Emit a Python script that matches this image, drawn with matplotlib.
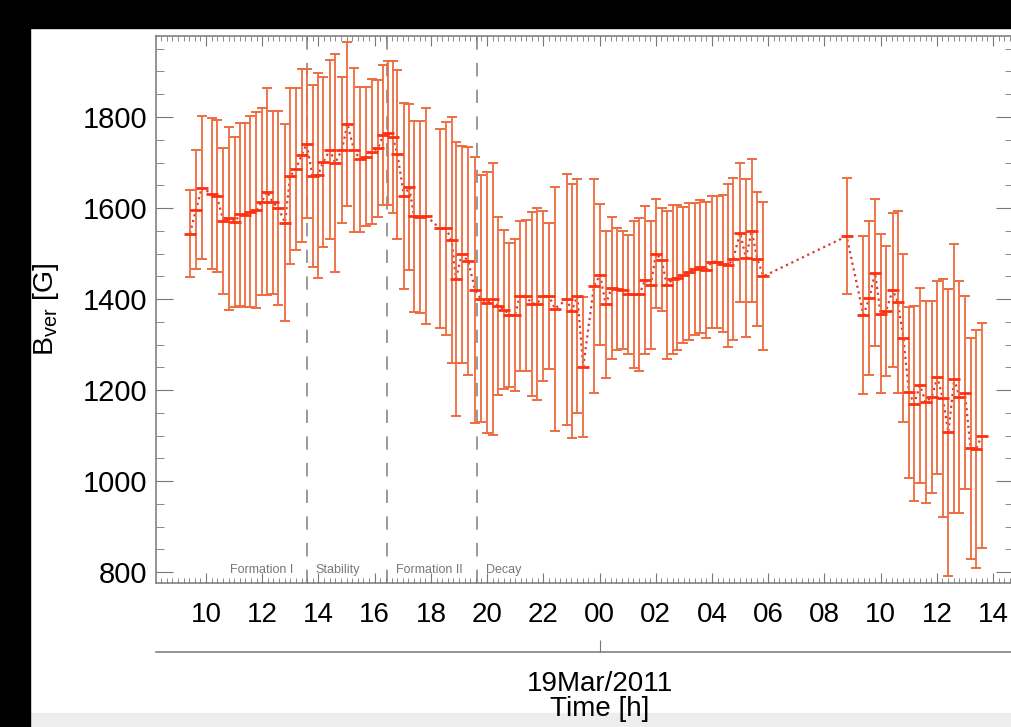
import matplotlib
matplotlib.use("Agg")
import matplotlib.pyplot as plt
from matplotlib.patches import Rectangle
from matplotlib.ticker import MultipleLocator
import matplotlib.transforms as mtransforms

plt.rcParams['font.family'] = ['Liberation Sans', 'DejaVu Sans']
plt.rcParams['mathtext.fontset'] = 'custom'
plt.rcParams['mathtext.rm'] = 'Liberation Sans'

# time in hours from 18 Mar 2011 00:00, B_ver and its error in G
hours = [9.43, 9.64, 9.85, 10.20, 10.38, 10.62, 10.83, 11.03, 11.21, 11.39,
         11.56, 11.78, 11.98, 12.18, 12.37, 12.57, 12.81, 12.99, 13.20, 13.40,
         13.58, 13.79, 13.98, 14.17, 14.41, 14.59, 14.83, 15.03, 15.26, 15.48,
         15.69, 15.89, 16.11, 16.31, 16.46, 16.64, 16.81, 17.04, 17.23, 17.40,
         17.61, 17.83, 18.32, 18.54, 18.74, 18.89, 19.10, 19.33, 19.57,
         19.77, 19.98, 20.20, 20.40, 20.61, 20.79, 20.99, 21.17, 21.38, 21.59,
         21.76, 22.00, 22.21, 22.41, 22.83, 23.01, 23.21, 23.42, 23.80, 24.02,
         24.22, 24.43, 24.61, 24.82, 25.02, 25.23, 25.42, 25.62, 25.82, 26.01,
         26.21, 26.39, 26.60, 26.77, 26.98, 27.19, 27.40, 27.57, 27.79, 27.99,
         28.17, 28.38, 28.58, 28.76, 29.00, 29.21, 29.41, 29.61, 29.83,
         32.79,
         33.39, 33.60, 33.80, 34.00, 34.19, 34.43, 34.61, 34.81, 35.01, 35.19,
         35.40, 35.61, 35.82, 36.02, 36.21, 36.41, 36.62, 36.80, 37.00, 37.20,
         37.39, 37.60]
bver = [1544, 1596, 1645, 1631, 1626, 1572, 1577, 1570, 1586, 1584,
        1592, 1596, 1614, 1636, 1613, 1600, 1568, 1670, 1686, 1716,
        1741, 1670, 1672, 1701, 1728, 1699, 1727, 1785, 1728, 1707,
        1713, 1724, 1731, 1760, 1765, 1756, 1718, 1627, 1646, 1582,
        1580, 1583, 1555, 1555, 1529, 1445, 1498, 1483, 1420,
        1401, 1392, 1400, 1385, 1377, 1365, 1365, 1407, 1407, 1390,
        1390, 1406, 1406, 1379, 1399, 1374, 1406, 1251, 1428, 1453,
        1388, 1425, 1421, 1420, 1410, 1410, 1410, 1442, 1431, 1500,
        1486, 1431, 1443, 1447, 1453, 1460, 1465, 1471, 1464, 1482,
        1482, 1478, 1474, 1489, 1546, 1490, 1550, 1488, 1450,
        1538,
        1365, 1402, 1458, 1368, 1373, 1420, 1394, 1314, 1195, 1170,
        1210, 1173, 1185, 1228, 1183, 1107, 1225, 1185, 1194, 1072,
        1070, 1100]
berr = [95, 131, 157, 166, 167, 160, 200, 187, 201, 202,
        210, 216, 205, 227, 201, 213, 216, 193, 178, 190,
        164, 200, 225, 186, 197, 239, 161, 180, 180, 159,
        153, 160, 150, 154, 159, 168, 186, 204, 182, 210,
        211, 237, 218, 234, 270, 301, 238, 250, 293,
        271, 287, 298, 195, 174, 159, 167, 165, 166, 202,
        211, 187, 160, 268, 276, 279, 257, 154, 235, 155,
        162, 156, 134, 130, 130, 162, 169, 162, 141, 119,
        113, 163, 163, 159, 150, 150, 145, 146, 150, 145,
        145, 150, 179, 178, 152, 173, 157, 148, 163,
        128,
        174, 169, 162, 174, 143, 170, 200, 184, 188, 214,
        215, 222, 211, 212, 262, 316, 296, 255, 212, 243,
        262, 248]

phase_bounds = [13.6, 16.45, 19.63]
tick_hours = list(range(10, 39, 2))
tick_labels = ['%02d' % (h % 24) for h in tick_hours]

fig = plt.figure(figsize=(10.12, 7.27), dpi=100)
W, H = 1012, 727
ax = fig.add_axes([156 / W, 1 - 583 / H, (1013 - 156) / W, (583 - 36) / H])

ax.plot(hours, bver, ':', color='#d83a30', lw=1.6, zorder=2)
ax.errorbar(hours, bver, yerr=berr, fmt='none', ecolor='#ee6c40',
            elinewidth=1.3, capsize=3.5, capthick=1.4, zorder=3)
ax.plot(hours, bver, '_', color='#ff3010', ms=9, mew=2, zorder=4)

for xb in phase_bounds:
    ax.axvline(xb, color='#888888', lw=1.2, dashes=(8, 8), zorder=1)

trans = mtransforms.blended_transform_factory(ax.transData, ax.transAxes)
ax.text(13.1, 0.018, 'Formation I', color='#777777', fontsize=9, ha='right', transform=trans)
ax.text(13.9, 0.018, 'Stability', color='#777777', fontsize=9, ha='left', transform=trans)
ax.text(16.75, 0.018, 'Formation II', color='#777777', fontsize=9, ha='left', transform=trans)
ax.text(19.95, 0.018, 'Decay', color='#777777', fontsize=9, ha='left', transform=trans)

ax.set_xlim(8.22, 38.71)
ax.set_ylim(776, 1978)
ax.set_xticks(tick_hours)
ax.set_xticklabels(tick_labels)
ax.xaxis.set_minor_locator(MultipleLocator(0.2))
ax.set_yticks([800, 1000, 1200, 1400, 1600, 1800])
ax.yaxis.set_minor_locator(MultipleLocator(50))
ax.tick_params(which='both', direction='in', top=True, right=True, color='#777777')
ax.tick_params(axis='x', which='major', length=7, labelsize=20, pad=14)
ax.tick_params(axis='x', which='minor', length=3.5)
ax.tick_params(axis='y', which='major', length=12, labelsize=21, pad=6)
ax.tick_params(axis='y', which='minor', length=5.5)
for sp in ax.spines.values():
    sp.set_color('#777777')
    sp.set_linewidth(1.1)

sec = ax.secondary_xaxis(-0.126)
sec.set_xticks([24])
sec.set_xticklabels(['19Mar/2011'])
sec.tick_params(direction='in', length=9, color='#777777', labelsize=20, pad=14)
sec.spines['bottom'].set_color('#777777')
sec.spines['bottom'].set_linewidth(1.1)

fig.text(600 / W, 1 - 709 / H, 'Time [h]', fontsize=20, ha='center', va='center')
fig.text(46 / W, 1 - 309 / H, r'B$_{\rm ver}$ [G]', fontsize=20.5, rotation=90,
         ha='center', va='center')

# black slide margins and grey strip at the bottom
fig.add_artist(Rectangle((0, 0), 30 / W, 1, transform=fig.transFigure,
                         color='black', zorder=10))
fig.add_artist(Rectangle((0, 1 - 28 / H), 1, 28 / H, transform=fig.transFigure,
                         color='black', zorder=10))
fig.add_artist(Rectangle((30 / W, 0), 1, 14 / H, transform=fig.transFigure,
                         color='#ededed', zorder=0))

fig.savefig('out.png', dpi=100)
